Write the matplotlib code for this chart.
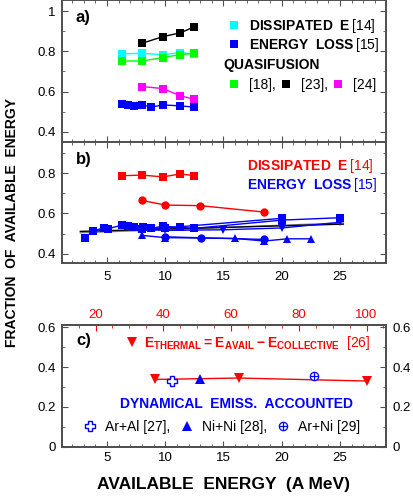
import numpy as np
import matplotlib
matplotlib.use("Agg")
import matplotlib.pyplot as plt
from matplotlib.lines import Line2D
from matplotlib.ticker import MultipleLocator, FuncFormatter

plt.rcParams['font.family'] = ['Liberation Sans', 'DejaVu Sans']
plt.rcParams['mathtext.fontset'] = 'custom'
plt.rcParams['mathtext.rm'] = 'Liberation Sans'
plt.rcParams['mathtext.bf'] = 'Liberation Sans:bold'

# ---- panel a) data
a_diss_x = [6.3, 8.0, 9.8, 11.3, 12.5]
a_diss_y = [0.788, 0.790, 0.783, 0.794, 0.786]
a_loss_x = [6.3, 6.8, 7.3, 8.0, 8.8, 9.8, 11.3, 12.5]
a_loss_y = [0.539, 0.534, 0.527, 0.534, 0.523, 0.534, 0.529, 0.523]
a_qf18_x = [6.3, 8.0, 9.8, 11.3, 12.5]
a_qf18_y = [0.752, 0.752, 0.769, 0.784, 0.790]
a_qf23_x = [8.0, 9.8, 11.3, 12.5]
a_qf23_y = [0.840, 0.873, 0.892, 0.922]
a_qf24_x = [8.0, 9.8, 11.3, 12.5]
a_qf24_y = [0.625, 0.615, 0.579, 0.562]

# ---- panel b) data
b_diss_sq_x = [6.3, 8.0, 9.8, 11.3, 12.5]
b_diss_sq_y = [0.788, 0.791, 0.782, 0.797, 0.788]
b_diss_ci_x = [8.0, 10.0, 13.0, 18.5]
b_diss_ci_y = [0.665, 0.642, 0.639, 0.607]
b_sq_x = [3.1, 3.8, 4.7, 5.1, 6.3, 6.8, 7.3, 8.1, 8.8, 9.8, 11.3, 12.5, 20.0, 25.0]
b_sq_y = [0.479, 0.512, 0.529, 0.524, 0.543, 0.538, 0.531, 0.534, 0.526, 0.537,
          0.531, 0.526, 0.567, 0.579]
b_sq2_x = [8.0, 10.0, 20.0]
b_sq2_y = [0.525, 0.528, 0.576]
b_dtri_x = [8.0, 10.0, 15.0, 20.0, 25.0]
b_dtri_y = [0.522, 0.516, 0.519, 0.528, 0.556]
b_circ_x = [10.0, 13.1, 18.5]
b_circ_y = [0.484, 0.479, 0.471]
b_utri_x = [8.0, 10.0, 16.0, 18.5, 20.5, 22.5]
b_utri_y = [0.491, 0.480, 0.476, 0.463, 0.474, 0.474]
b_fit_x = [2.7, 25.3]
b_fit_black_y = [0.511, 0.547]
b_fit_gray_y = [0.504, 0.553]

# ---- panel c) data
c_therm_x = [9.1, 16.3, 27.3]
c_therm_y = [0.338, 0.345, 0.330]
c_aral_x, c_aral_y = [10.6], [0.331]
c_nini_x, c_nini_y = [13.0], [0.338]
c_arni_x, c_arni_y = [22.8], [0.356]

XLIM = (1.1, 28.95)
FRAME = '#505050'

fig = plt.figure(figsize=(4.14, 4.98), dpi=100)
axa = fig.add_axes([0.149, 0.715, 0.783, 0.285])
axb = fig.add_axes([0.149, 0.472, 0.783, 0.243])
axc = fig.add_axes([0.149, 0.103, 0.783, 0.245])

fmt = FuncFormatter(lambda v, p: f"{v:g}")


def style(ax):
    for s in ax.spines.values():
        s.set_color(FRAME)
        s.set_linewidth(1.4)
    ax.tick_params(which='both', direction='in', top=True, right=True,
                   colors=FRAME, labelcolor='black', labelsize=9.5, pad=4.5)
    ax.tick_params(which='major', length=4.5, width=0.8)
    ax.tick_params(which='minor', length=2, width=0.6)
    ax.xaxis.set_major_locator(MultipleLocator(5))
    ax.xaxis.set_minor_locator(MultipleLocator(1))
    ax.yaxis.set_major_locator(MultipleLocator(0.2))
    ax.yaxis.set_minor_locator(MultipleLocator(0.1))
    ax.yaxis.set_major_formatter(fmt)
    ax.set_xlim(*XLIM)


for ax in (axa, axb, axc):
    style(ax)

sq = dict(marker='s', ms=5.5, mew=0, lw=1)

# a)
axa.plot(a_diss_x, a_diss_y, color='#00ffff', **sq)
axa.plot(a_qf18_x, a_qf18_y, color='#00ff00', **sq)
axa.plot(a_qf23_x, a_qf23_y, color='black', **sq)
axa.plot(a_qf24_x, a_qf24_y, color='#ff00ff', **sq)
axa.plot(a_loss_x, a_loss_y, color='#0000ff', **sq)
axa.set_ylim(0.35, 1.055)
axa.tick_params(labelbottom=False)
axa.text(0.044, 0.93, 'a)', transform=axa.transAxes, fontsize=12,
         fontweight='bold', va='top')

h_cyan = Line2D([], [], color='#00ffff', marker='s', ms=6, ls='none', mew=0)
h_blue = Line2D([], [], color='#0000ff', marker='s', ms=6, ls='none', mew=0)
leg1 = axa.legend([h_cyan, h_blue],
                  [r'DISSIPATED  E$\,\mathrm{[14]}$', r'ENERGY  LOSS$\,\mathrm{[15]}$'],
                  loc='upper left', bbox_to_anchor=(0.51, 0.88), frameon=False,
                  prop={'weight': 'bold', 'size': 10}, handlelength=1.0,
                  handletextpad=0.6, borderpad=0, borderaxespad=0,
                  labelspacing=0.05, numpoints=1)
axa.add_artist(leg1)
axa.text(0.5, 0.54, 'QUASIFUSION', transform=axa.transAxes, fontsize=10,
         fontweight='bold', va='center')
h_g = Line2D([], [], color='#00ff00', marker='s', ms=6, ls='none', mew=0)
h_k = Line2D([], [], color='black', marker='s', ms=6, ls='none', mew=0)
h_m = Line2D([], [], color='#ff00ff', marker='s', ms=6, ls='none', mew=0)
axa.legend([h_g, h_k, h_m], ['[18],', '[23],', '[24]'], ncol=3,
           loc='upper left', bbox_to_anchor=(0.51, 0.45), frameon=False,
           fontsize=10, handlelength=1.0, handletextpad=0.6, borderpad=0,
           borderaxespad=0, columnspacing=0.2, numpoints=1)

# b)
axb.plot(b_diss_sq_x, b_diss_sq_y, color='#ff0000', **sq)
axb.plot(b_diss_ci_x, b_diss_ci_y, color='#ff0000', marker='o', ms=6, mew=0, lw=1)
axb.plot(b_fit_x, b_fit_gray_y, color='#808080', lw=1)
axb.plot(b_fit_x, b_fit_black_y, color='black', lw=1)
axb.plot(b_sq2_x, b_sq2_y, color='#0000ff', **sq)
axb.plot(b_dtri_x, b_dtri_y, color='#0000ff', marker='v', ms=6, mew=0, lw=1)
axb.plot(b_utri_x, b_utri_y, color='#0000ff', marker='^', ms=6, mew=0, lw=1)
axb.plot(b_circ_x, b_circ_y, color='#0000ff', marker='o', ms=6, mew=0, lw=1)
axb.plot(b_sq_x, b_sq_y, color='#0000ff', **sq)
axb.set_ylim(0.354, 0.956)
axb.tick_params(axis='x', pad=6)
axb.text(0.044, 0.92, 'b)', transform=axb.transAxes, fontsize=12,
         fontweight='bold', va='top')
axb.text(0.571, 0.805, r'DISSIPATED  E$\,\mathrm{[14]}$', transform=axb.transAxes,
         fontsize=10, fontweight='bold', color='#ff0000', va='center')
axb.text(0.571, 0.64, r'ENERGY  LOSS$\,\mathrm{[15]}$', transform=axb.transAxes,
         fontsize=10, fontweight='bold', color='#0000ff', va='center')

# c)
axc.plot(c_therm_x, c_therm_y, color='#ff0000', marker='v', ms=7, mew=0, lw=1)
axc.plot(c_aral_x, c_aral_y, ls='none', marker='P', ms=7, mfc='white',
         mec='#0000ff', mew=1)
axc.plot(c_nini_x, c_nini_y, ls='none', marker='^', ms=7, color='#0000ff', mew=0)
axc.plot(c_arni_x, c_arni_y, ls='none', marker='o', ms=6, mfc='white',
         mec='#0000ff', mew=0.9)
axc.plot(c_arni_x, c_arni_y, ls='none', marker='+', ms=6, color='#0000ff', mew=0.9)
axc.set_ylim(0, 0.613)
axc.tick_params(top=False, labelright=True, pad=4.5)
axc.tick_params(axis='x', pad=4)
axc.set_xlabel('AVAILABLE  ENERGY  (A MeV)', fontsize=12.5, fontweight='bold',
               labelpad=9)
axc.text(0.044, 0.934, 'c)', transform=axc.transAxes, fontsize=12,
         fontweight='bold', va='top')

axt = axc.twiny()
axt.set_xlim(10, 105.7)
axt.xaxis.set_major_locator(MultipleLocator(20))
axt.xaxis.set_minor_locator(MultipleLocator(5))
axt.tick_params(which='both', direction='in', colors='#ff0000', labelsize=9.5, pad=3)
axt.tick_params(which='major', length=4.5, width=0.8)
axt.tick_params(which='minor', length=2, width=0.6)
for s in axt.spines.values():
    s.set_color(FRAME)
    s.set_linewidth(1.4)

h_red = Line2D([], [], color='#ff0000', marker='v', ms=7, ls='none', mew=0)
leg3 = axc.legend([h_red],
                  [r'$\mathbf{E_{THERMAL}=E_{AVAIL}-E_{COLLECTIVE}}$  $\mathrm{[26]}$'],
                  loc='center left', bbox_to_anchor=(0.195, 0.85), frameon=False,
                  fontsize=10, handlelength=1.0, handletextpad=0.4, borderpad=0,
                  borderaxespad=0, numpoints=1, labelcolor='#ff0000')
axc.add_artist(leg3)
axc.text(0.539, 0.35, 'DYNAMICAL  EMISS.  ACCOUNTED', transform=axc.transAxes,
         fontsize=10, fontweight='bold', color='#0000ff', ha='center', va='center')
h_p = Line2D([], [], ls='none', marker='P', ms=7, mfc='white', mec='#0000ff', mew=1)
h_t = Line2D([], [], ls='none', marker='^', ms=7, color='#0000ff', mew=0)
h_o = Line2D([], [], ls='none', marker='o', ms=6, mfc='white', mec='#0000ff', mew=0.9)
h_x = Line2D([], [], ls='none', marker='+', ms=6, color='#0000ff', mew=0.9)
axc.legend([h_p, h_t, (h_o, h_x)], ['Ar+Al [27],', 'Ni+Ni [28],', 'Ar+Ni [29]'],
           ncol=3, loc='center left', bbox_to_anchor=(0.066, 0.16), frameon=False,
           fontsize=10, handlelength=1.0, handletextpad=0.6, borderpad=0,
           borderaxespad=0, columnspacing=0.65, numpoints=1)

fig.text(0.029, 0.554, 'FRACTION  OF  AVAILABLE  ENERGY', rotation=90,
         fontsize=10, fontweight='bold', ha='center', va='center')

fig.savefig('out.png', dpi=100)
